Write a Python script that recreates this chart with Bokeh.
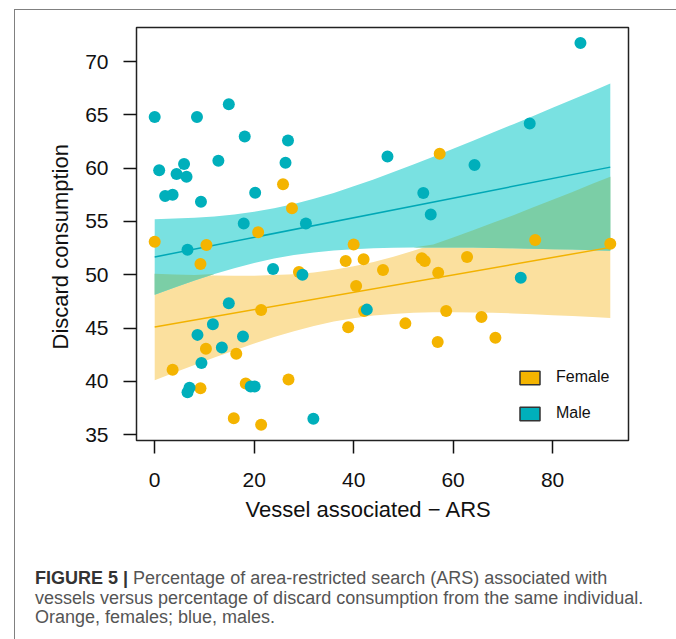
import numpy as np
from bokeh.plotting import figure
from bokeh.layouts import column
from bokeh.models import Range1d, FixedTicker, Legend, LegendItem, Div, Title
from bokeh.embed import file_html
from bokeh.resources import INLINE

# ---------------- data ----------------
female_x = [0, 10.4, 9.2, 20.8, 25.8, 27.6, 40.0, 38.4, 42.0, 45.9, 29.0, 40.5,
            21.4, 42.1, 38.9, 50.4, 10.3, 16.4, 3.6, 9.2, 18.3, 26.9, 15.9, 21.4,
            57.3, 76.5, 91.6, 53.7, 54.3, 62.8, 57.0, 58.6, 65.7, 56.9, 68.5]
female_y = [53.1, 52.8, 51.0, 54.0, 58.5, 56.25, 52.85, 51.3, 51.45, 50.45, 50.26, 48.95,
            46.7, 46.6, 45.07, 45.44, 43.05, 42.6, 41.08, 39.35, 39.8, 40.17, 36.54, 35.92,
            61.35, 53.26, 52.9, 51.54, 51.3, 51.66, 50.2, 46.6, 46.04, 43.7, 44.1]

male_x = [0, 8.5, 14.9, 18.1, 26.8, 0.9, 4.4, 5.9, 6.4, 12.8, 26.3, 2.1, 3.6, 9.3,
          20.2, 17.9, 30.4, 46.8, 6.6, 23.8, 29.7, 14.9, 11.7, 8.6, 17.75, 13.5, 9.4,
          42.65, 7.0, 6.6, 19.3, 20.1, 31.9, 85.6, 75.4, 64.3, 54.0, 55.5, 73.6]
male_y = [64.8, 64.8, 66.0, 62.97, 62.6, 59.8, 59.45, 60.4, 59.2, 60.7, 60.5, 57.4, 57.5, 56.85,
          57.7, 54.8, 54.8, 61.1, 52.35, 50.54, 50.0, 47.32, 45.35, 44.36, 44.2, 43.17, 41.73,
          46.73, 39.39, 38.98, 39.51, 39.51, 36.49, 71.75, 64.2, 60.3, 57.67, 55.66, 49.73]

# fitted lines (end points) and confidence bands
line_x = [0, 91.6]
female_line = [45.10, 52.57]
male_line = [51.67, 60.10]

band_x = [0, 4, 8, 12, 16, 20, 24, 28, 32, 36, 40, 44, 48, 52, 56, 60, 64, 68, 72, 76, 80, 84, 88, 91.6]
female_upper = [50.10, 50.03, 49.97, 49.93, 49.90, 49.91, 49.97, 50.06, 50.22, 50.47, 50.79, 51.20,
                51.69, 52.25, 52.85, 53.49, 54.17, 54.87, 55.57, 56.30, 57.03, 57.77, 58.53, 59.20]
female_lower = [40.10, 40.83, 41.53, 42.23, 42.90, 43.55, 44.16, 44.70, 45.20, 45.61, 45.93, 46.18,
                46.33, 46.44, 46.49, 46.49, 46.47, 46.43, 46.37, 46.30, 46.21, 46.13, 46.03, 45.94]
male_upper = [55.22, 55.27, 55.36, 55.47, 55.66, 55.91, 56.24, 56.65, 57.14, 57.68, 58.30, 58.95,
              59.64, 60.35, 61.07, 61.82, 62.57, 63.34, 64.11, 64.88, 65.66, 66.44, 67.23, 67.94]
male_lower = [48.12, 48.81, 49.46, 50.07, 50.62, 51.11, 51.52, 51.85, 52.10, 52.28, 52.40, 52.49,
              52.54, 52.57, 52.57, 52.56, 52.55, 52.52, 52.49, 52.44, 52.40, 52.36, 52.31, 52.26]

x_ticks = [0, 20, 40, 60, 80]
y_ticks = [35, 40, 45, 50, 55, 60, 65, 70]
legend_labels = ["Female", "Male"]
x_label = "Vessel associated \u2212 ARS"
y_label = "Discard consumption"

caption_bold = "FIGURE 5 |"
caption_lines = ["Percentage of area-restricted search (ARS) associated with",
                 "vessels versus percentage of discard consumption from the same individual.",
                 "Orange, females; blue, males."]

# ---------------- style ----------------
ORANGE = "#F4B400"
BLUE = "#00AFBB"
ORANGE_BAND = "#FBE09E"
BLUE_BAND = "#79E1E1"
OVERLAP = "#7BCEA6"
FONT = "Liberation Sans"
W = 656

p = figure(width=W, height=520, output_backend="svg", toolbar_location=None,
           x_range=Range1d(-3.66, 95.26), y_range=Range1d(34.45, 73.2),
           min_border_left=121, min_border_right=43, min_border_top=17, min_border_bottom=90)
p.background_fill_color = "white"
p.border_fill_color = "white"
p.outline_line_color = "#222222"
p.outline_line_width = 1.5
p.xgrid.grid_line_color = None
p.ygrid.grid_line_color = None

# bands
bx = np.array(band_x)
fu = np.array(female_upper); fl = np.array(female_lower)
mu = np.array(male_upper); ml = np.array(male_lower)
p.varea(x=bx, y1=fl, y2=fu, fill_color=ORANGE_BAND, fill_alpha=1.0)
p.varea(x=bx, y1=ml, y2=mu, fill_color=BLUE_BAND, fill_alpha=1.0)
ov_lo = np.maximum(ml, fl)
ov_hi = np.maximum(np.minimum(mu, fu), ov_lo)
p.varea(x=bx, y1=ov_lo, y2=ov_hi, fill_color=OVERLAP, fill_alpha=1.0)

# regression lines
p.line(line_x, female_line, line_color="#F2B200", line_width=1.5)
p.line(line_x, male_line, line_color="#00A8B6", line_width=1.5)

# points
p.scatter(female_x, female_y, size=12, fill_color=ORANGE, line_color=None)
p.scatter(male_x, male_y, size=12, fill_color=BLUE, line_color=None)

# axes
for ax in (p.xaxis[0], p.yaxis[0]):
    ax.axis_line_color = None
    ax.major_tick_line_color = "#111111"
    ax.major_tick_line_width = 1.5
    ax.major_tick_out = 13
    ax.major_tick_in = 0
    ax.minor_tick_line_color = None
    ax.major_label_text_font = FONT
    ax.major_label_text_font_size = "21px"
    ax.major_label_text_color = "#111111"
p.xaxis[0].ticker = FixedTicker(ticks=x_ticks)
p.yaxis[0].ticker = FixedTicker(ticks=y_ticks)
p.xaxis[0].major_label_standoff = 19
p.yaxis[0].major_label_standoff = 15

# axis titles (placed slightly off-centre as in the original)
p.add_layout(Title(text=x_label, align="left", offset=109, standoff=11,
                   text_font=FONT, text_font_size="22px", text_font_style="normal",
                   text_color="#111111"), "below")
p.add_layout(Title(text=y_label, align="left", offset=91, standoff=20,
                   text_font=FONT, text_font_size="22px", text_font_style="normal",
                   text_color="#111111"), "left")

# legend swatches: hidden renderers that only carry the swatch style
rf = p.quad(left=[female_x[0]], right=[female_x[0]], top=[female_y[0]], bottom=[female_y[0]],
            fill_color=ORANGE, line_color="#333333", line_width=1.5, visible=False)
rm = p.quad(left=[male_x[0]], right=[male_x[0]], top=[male_y[0]], bottom=[male_y[0]],
            fill_color=BLUE, line_color="#333333", line_width=1.5, visible=False)
legend = Legend(items=[LegendItem(label=legend_labels[0], renderers=[rf]),
                       LegendItem(label=legend_labels[1], renderers=[rm])],
                location=(381, 18), orientation="vertical",
                glyph_width=25, glyph_height=17, label_height=17, spacing=18,
                label_standoff=14, padding=0, margin=0,
                label_text_font=FONT, label_text_font_size="16px", label_text_color="#111111",
                background_fill_alpha=0, border_line_color=None,
                inactive_fill_alpha=0)
p.add_layout(legend, "center")

# caption
caption_html = (
    '<div style="padding:34px 0 0 15px; font-family:\'Liberation Sans\', Arial, sans-serif; '
    'font-size:18px; line-height:19.5px; color:#555555; white-space:nowrap;">'
    f'<span style="font-weight:bold; color:#333333;">{caption_bold}</span> {caption_lines[0]}<br>'
    f'{caption_lines[1]}<br>{caption_lines[2]}</div>')
cap = Div(text=caption_html, width=W, height=108)

layout = column(p, cap, spacing=0,
                styles={"margin-left": "14px", "margin-top": "9px",
                        "border-top": "1px solid #808080",
                        "border-left": "1px solid #808080",
                        "border-right": "1px solid #808080"})

open("out.html", "w").write(file_html(layout, INLINE))
